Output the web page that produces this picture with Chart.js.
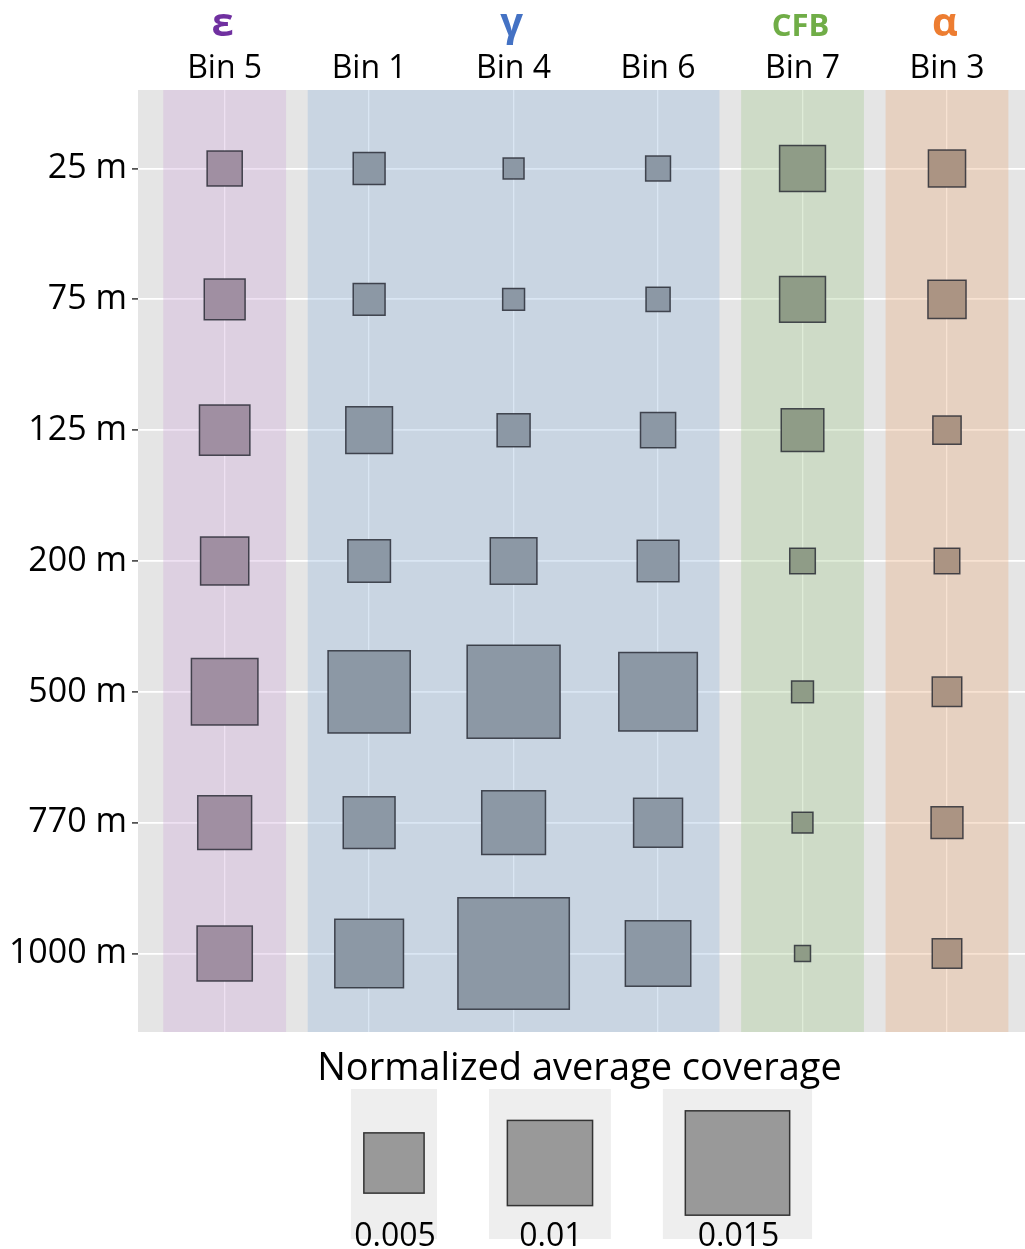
<!DOCTYPE html>
<html>
<head>
<meta charset="utf-8">
<title>Normalized average coverage by bin and depth</title>
<script src="https://cdn.jsdelivr.net/npm/chart.js@4/dist/chart.umd.min.js"></script>
<style>
  html, body { margin: 0; padding: 0; background: #ffffff; }
  canvas { display: block; }
</style>
</head>
<body>
<canvas id="chart" width="1025" height="1249"></canvas>
<script>
// Columns (bins) in display order and rows (depths)
const bins = ['Bin 5', 'Bin 1', 'Bin 4', 'Bin 6', 'Bin 7', 'Bin 3'];
const depths = ['25 m', '75 m', '125 m', '200 m', '500 m', '770 m', '1000 m'];

// Normalized average coverage of each bin, one value per depth (top to bottom)
const bin5 = [0.0017, 0.0023, 0.0035, 0.0032, 0.0061, 0.0040, 0.0042];
const bin1 = [0.0014, 0.0014, 0.0030, 0.0025, 0.0093, 0.0037, 0.0065];
const bin4 = [0.0006, 0.00066, 0.0015, 0.0030, 0.0119, 0.0056, 0.0171];
const bin6 = [0.00085, 0.0008, 0.0017, 0.0024, 0.0085, 0.0033, 0.0059];
const bin7 = [0.0029, 0.0029, 0.0025, 0.0009, 0.00066, 0.0006, 0.00035];
const bin3 = [0.0019, 0.0020, 0.0011, 0.0009, 0.0012, 0.0014, 0.0012];
const binValues = [bin5, bin1, bin4, bin6, bin7, bin3];

// Taxonomic groups: label, first and last bin index, label colour
const groupNames = ['ε', 'γ', 'CFB', 'α'];
const groupFirst = [0, 1, 4, 5];
const groupLast = [0, 3, 4, 5];
const groupHeaderBin = [0, 2, 4, 5];
const binGroup = [0, 1, 1, 1, 2, 3];

// Size legend
const legendValues = [0.005, 0.01, 0.015];
const legendLabels = ['0.005', '0.01', '0.015'];
const legendTitle = 'Normalized average coverage';

// Styling
const FONT = "'Open Sans', 'DejaVu Sans', sans-serif";
const groupTextColors = ['#7030a0', '#4472c4', '#70ad47', '#ed7d31'];
const bandColors = ['rgba(206,169,218,0.35)', 'rgba(149,183,220,0.35)', 'rgba(163,200,143,0.35)', 'rgba(232,172,126,0.35)'];
const squareFills = ['#a08fa2', '#8c98a5', '#8f9c87', '#ab9483'];
const squareBorder = 'rgba(35,38,48,0.8)';
const panelColor = '#e5e5e5';
const BAND_HALF = 0.425;

// square side length in pixels grows with the square root of the value (area ~ value)
function sideOf(v) { return 852 * Math.sqrt(v); }

const datasets = binValues.map((vals, i) => ({
  label: bins[i],
  data: vals.map((v, j) => ({ x: i, y: j, v: v })),
  pointStyle: 'rect',
  pointRadius: ctx => sideOf(ctx.raw.v) / Math.SQRT2,
  pointHoverRadius: ctx => sideOf(ctx.raw.v) / Math.SQRT2,
  backgroundColor: squareFills[binGroup[i]],
  borderColor: squareBorder,
  borderWidth: 1.5,
  hoverBorderWidth: 1.5
}));

const panelPlugin = {
  id: 'panel',
  beforeDraw(chart) {
    const a = chart.chartArea, ctx = chart.ctx;
    ctx.save();
    ctx.fillStyle = panelColor;
    ctx.fillRect(a.left, a.top, a.right - a.left, a.bottom - a.top);
    ctx.restore();
  },
  beforeDatasetsDraw(chart) {
    const a = chart.chartArea, ctx = chart.ctx, xs = chart.scales.x;
    ctx.save();
    groupNames.forEach((g, k) => {
      const x0 = xs.getPixelForValue(groupFirst[k] - BAND_HALF);
      const x1 = xs.getPixelForValue(groupLast[k] + BAND_HALF);
      ctx.fillStyle = bandColors[k];
      ctx.fillRect(x0, a.top, x1 - x0, a.bottom - a.top);
    });
    ctx.restore();
  },
  afterDraw(chart) {
    const a = chart.chartArea, ctx = chart.ctx, xs = chart.scales.x;
    ctx.save();
    // group names above the bin labels
    ctx.textAlign = 'center';
    ctx.textBaseline = 'alphabetic';
    groupNames.forEach((g, k) => {
      const size = g === 'CFB' ? 31 : 40;
      ctx.font = `bold ${size}px ${FONT}`;
      ctx.fillStyle = groupTextColors[k];
      ctx.fillText(g, xs.getPixelForValue(groupHeaderBin[k]) - 2, 36);
    });

    // size legend
    const cx = (a.left + a.right) / 2;
    ctx.fillStyle = '#000';
    ctx.font = `38px ${FONT}`;
    ctx.fillText(legendTitle, cx - 2, 1080);

    const gap = 52;
    const keyW = legendValues.map(v => sideOf(v) * 1.43);
    const total = keyW.reduce((s, w) => s + w, 0) + gap * (keyW.length - 1);
    let x = cx - total / 2;
    const keyTop = 1089, keyH = 150, midY = 1163;
    legendValues.forEach((v, i) => {
      const w = keyW[i];
      const kc = x + w / 2;
      ctx.fillStyle = '#eeeeee';
      ctx.fillRect(x, keyTop, w, keyH);
      const s = sideOf(v);
      ctx.fillStyle = '#999999';
      ctx.fillRect(kc - s / 2, midY - s / 2, s, s);
      ctx.strokeStyle = '#333333';
      ctx.lineWidth = 1.5;
      ctx.strokeRect(kc - s / 2, midY - s / 2, s, s);
      ctx.fillStyle = '#000';
      ctx.font = `32px ${FONT}`;
      ctx.fillText(legendLabels[i], kc + 1, 1246);
      x += w + gap;
    });
    ctx.restore();
  }
};

new Chart(document.getElementById('chart'), {
  type: 'scatter',
  data: { datasets },
  plugins: [panelPlugin],
  options: {
    responsive: false,
    animation: false,
    events: [],
    layout: { autoPadding: false, padding: { top: 0, right: 0, bottom: 217, left: 0 } },
    plugins: { legend: { display: false }, tooltip: { enabled: false } },
    scales: {
      x: {
        type: 'linear',
        position: 'top',
        min: -0.6,
        max: 5.54,
        afterBuildTicks: s => { s.ticks = bins.map((_, i) => ({ value: i })); },
        afterFit: s => { s.height = 90; s.paddingLeft = 0; s.paddingRight = 0; },
        ticks: {
          autoSkip: false,
          maxRotation: 0,
          padding: 2,
          color: '#000',
          font: { family: FONT, size: 32 },
          callback: v => bins[v]
        },
        grid: { color: '#ffffff', lineWidth: 1.3, drawTicks: false },
        border: { display: false }
      },
      y: {
        type: 'linear',
        reverse: true,
        min: -0.6,
        max: 6.6,
        afterBuildTicks: s => { s.ticks = depths.map((_, i) => ({ value: i })); },
        afterFit: s => { s.width = 138; s.paddingTop = 0; s.paddingBottom = 0; },
        ticks: {
          autoSkip: false,
          padding: 5,
          color: '#000',
          font: { family: FONT, size: 34 },
          callback: v => depths[v]
        },
        grid: { color: '#ffffff', lineWidth: 1.8, tickColor: '#333333', tickLength: 6, tickWidth: 1.5 },
        border: { display: false }
      }
    }
  }
});
</script>
</body>
</html>
